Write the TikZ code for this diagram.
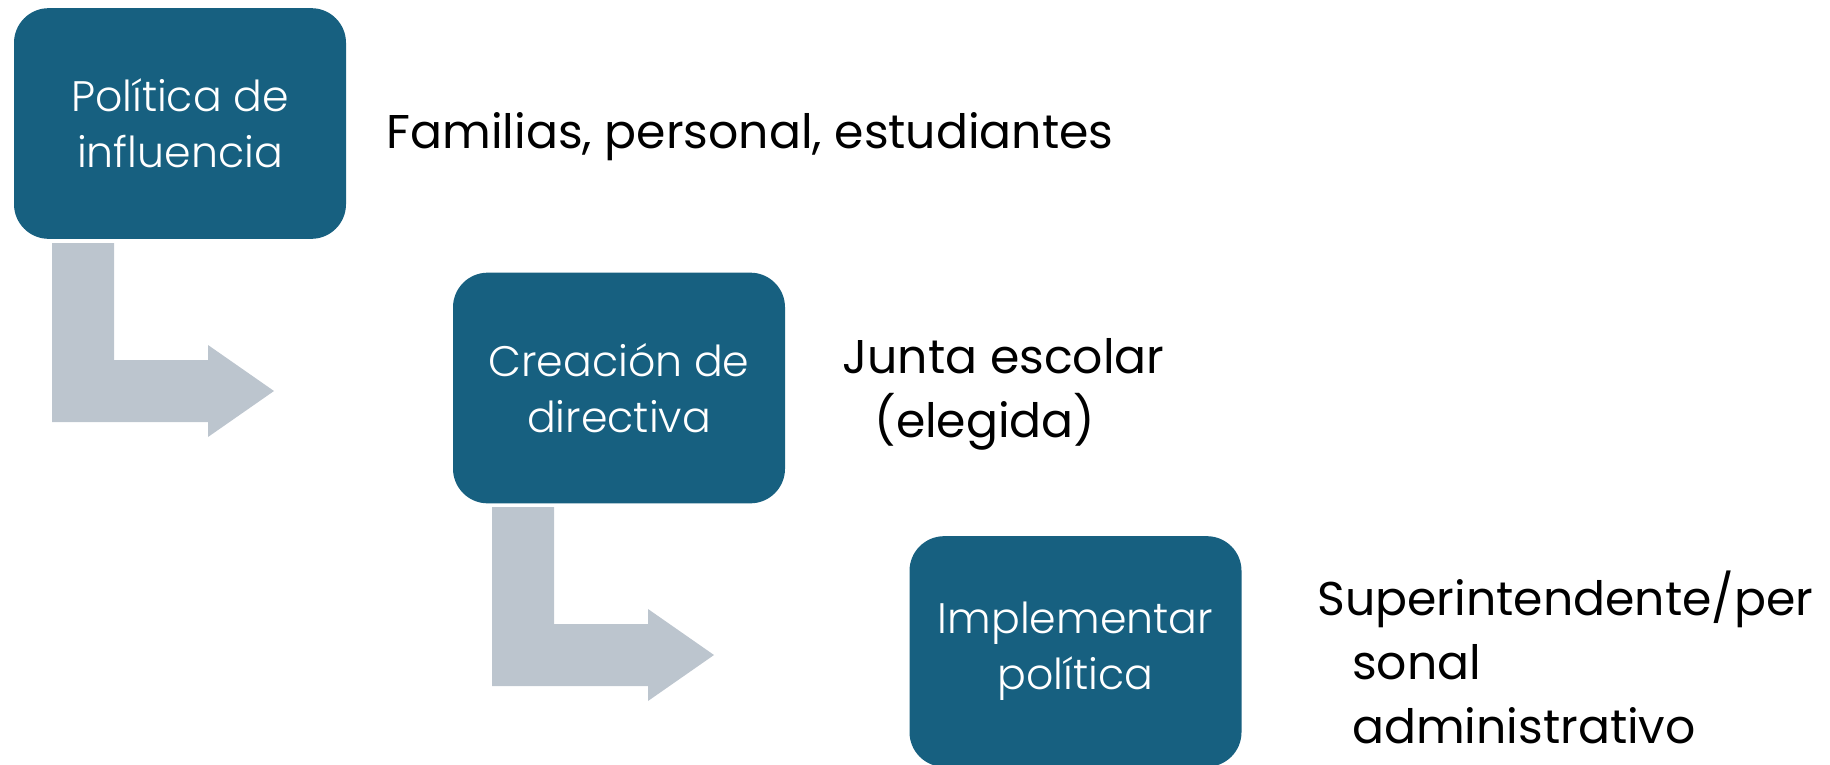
\documentclass[tikz,border=0pt]{standalone}
\usepackage{fontspec}
\setmainfont{Poppins}
\IfFontExistsTF{Poppins Light}{\newfontfamily\boxfont{Poppins Light}}{\newfontfamily\boxfont{Poppins}}

\definecolor{boxblue}{RGB}{23,96,128}
\definecolor{arrowgray}{RGB}{188,197,206}

\tikzset{every picture/.style={line width=0.75pt}}
\tikzset{
  stagebox/.style={fill=boxblue, rounded corners=26pt, minimum width=249pt, minimum height=173pt,
    inner sep=0pt, align=center, text=white, font=\boxfont\fontsize{32}{42}\selectfont},
  sidetext/.style={anchor=base west, inner sep=0pt, align=left, font=\fontsize{35.5}{48}\selectfont},
  bentarrow/.style={fill=arrowgray}
}

\begin{document}
\begin{tikzpicture}[x=0.75pt,y=0.75pt,yscale=-1,xscale=1]
\useasboundingbox (0,0) rectangle (1830,764);

%Bent arrows
\begin{scope}[shift={(52,243)}]
\fill [bentarrow] (0,0) -- (62,0) -- (62,117) -- (156,117) -- (156,102) -- (222,148)
  -- (156,194) -- (156,179) -- (0,179) -- cycle;
\end{scope}
\begin{scope}[shift={(492,507)}]
\fill [bentarrow] (0,0) -- (62,0) -- (62,117) -- (156,117) -- (156,102) -- (222,148)
  -- (156,194) -- (156,179) -- (0,179) -- cycle;
\end{scope}

%Rounded Rect
\node [stagebox] (influence) at (180,123.5) {Política de\\influencia};
%Rounded Rect
\node [stagebox] (directive) at (619,388) {Creación de\\directiva};
%Rounded Rect
\node [stagebox] (implement) at (1075.5,651.5) {Implementar\\política};

% Text Node
\node [sidetext] (families) at (386,148) {Familias, personal, estudiantes};
% Text Node
\node [sidetext] (board) at (842,437) {Junta escolar\\\hspace*{24pt}(elegida)};
% Text Node
\node [sidetext] (staff) at (1317,743) {Superintendente/per\\\hspace*{26pt}sonal\\\hspace*{26pt}administrativo};

\end{tikzpicture}
\end{document}
